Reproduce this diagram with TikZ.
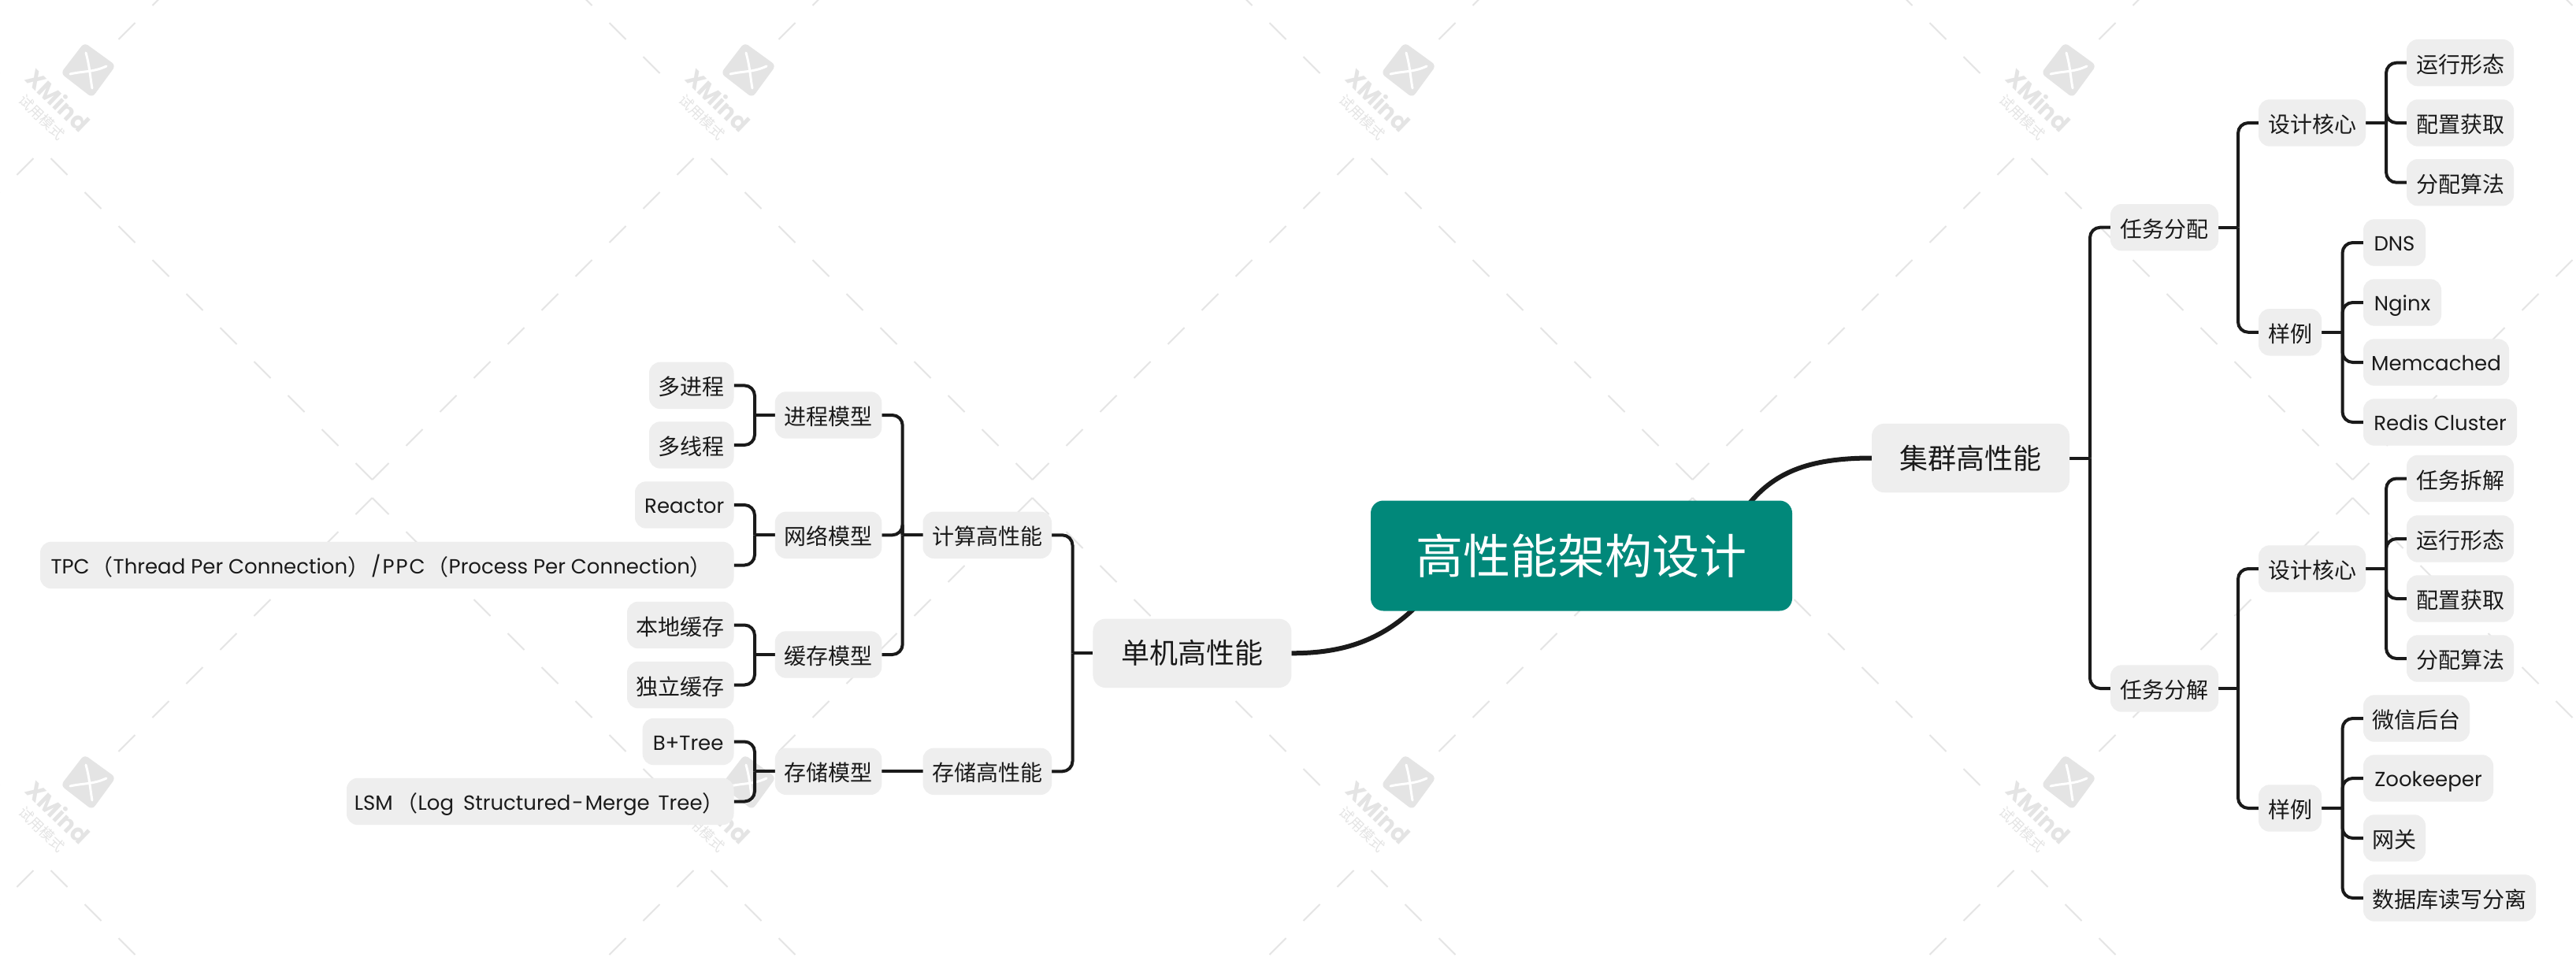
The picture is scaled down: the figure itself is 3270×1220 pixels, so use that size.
\documentclass[tikz,border=0pt]{standalone}
\usepackage{fontspec}
\setmainfont{Noto Sans CJK SC}
\newfontfamily\latf{Poppins}
\newcommand{\La}[1]{\raisebox{2pt}{\latf\fontsize{26}{30}\selectfont #1}}
\definecolor{boxgray}{HTML}{EEEEEE}
\definecolor{inkc}{HTML}{1A1A1A}
\definecolor{teal1}{HTML}{01887A}
\definecolor{wmc}{HTML}{E4E4E4}
\pgfdeclarelayer{wm}
\pgfdeclarelayer{conn}
\pgfsetlayers{wm,conn,main}
\tikzset{
  leaf/.style={fill=boxgray,rounded corners=14pt,inner sep=0pt,outer sep=0pt,align=center,
    minimum height=59.4pt,text=inkc,font=\fontsize{28}{34}\selectfont,text height=27.8pt,text depth=2.8pt},
  lvlone/.style={leaf,rounded corners=16pt,minimum height=87.5pt,font=\fontsize{36}{44}\selectfont,text height=30.6pt,text depth=3.6pt},
  rootbox/.style={leaf,fill=teal1,rounded corners=16pt,minimum height=140pt,text=white,font=\fontsize{60}{72}\selectfont,text height=51pt,text depth=6pt},
  conn/.style={draw=inkc,line width=4pt,rounded corners=13pt},
  thickconn/.style={draw=inkc,line width=6pt},
  wmline/.style={draw=wmc,line width=2pt},
}
\newcommand{\nd}[6][leaf]{\node[#1,minimum width={(#4-#3)*1pt}] (#2) at ({(#3+#4)/2},#5) {#6};}
\newcommand{\treeR}[3]{%
  \path (#1.east) ++(#2,0) coordinate (#1b);
  \draw[conn] (#1.east) -- (#1b);
  \foreach \c in {#3} {\draw[conn] (#1b) |- (\c.west);}}
\newcommand{\treeL}[3]{%
  \path (#1.west) ++(-#2,0) coordinate (#1b);
  \draw[conn] (#1.west) -- (#1b);
  \foreach \c in {#3} {\draw[conn] (#1b) |- (\c.east);}}
\begin{document}
\begin{tikzpicture}[x=1pt,y=-1pt]
\useasboundingbox (0,0) rectangle (3270,1220);
% nodes
\nd[rootbox]{root}{1740}{2275}{705.5}{高性能架构设计}
\nd[lvlone]{cluster}{2376}{2627}{581.5}{集群高性能}
\nd[lvlone]{single}{1387.4}{1639.4}{829.3}{单机高性能}
% right
\nd{ta}{2679}{2816}{288.7}{任务分配}
\nd{tb}{2679}{2816}{874}{任务分解}
\nd{ca}{2867}{3003}{156}{设计核心}
\nd{sa}{2867}{2947}{421.8}{样例}
\nd{cb}{2867}{3003}{722}{设计核心}
\nd{sb}{2867}{2947}{1026}{样例}
\nd{a1}{3055}{3191}{79.7}{运行形态}
\nd{a2}{3055}{3191}{156}{配置获取}
\nd{a3}{3055}{3191}{231.7}{分配算法}
\nd{e1}{3000}{3079}{308}{\La{DNS}}
\nd{e2}{3000}{3099}{384}{\La{Nginx}}
\nd{e3}{3000}{3185}{460}{\La{Memcached}}
\nd{e4}{3000}{3195}{536}{\La{Redis Cluster}}
\nd{b1}{3055}{3191}{607.5}{任务拆解}
\nd{b2}{3055}{3191}{684}{运行形态}
\nd{b3}{3055}{3191}{760}{配置获取}
\nd{b4}{3055}{3191}{836}{分配算法}
\nd{f1}{3000}{3135}{912}{微信后台}
\nd{f2}{3000}{3165}{988}{\La{Zookeeper}}
\nd{f3}{3000}{3079}{1064}{网关}
\nd{f4}{3000}{3219}{1140}{数据库读写分离}
% left
\nd{calc}{1171.5}{1335}{679.3}{计算高性能}
\nd{stor}{1171.5}{1335}{979.3}{存储高性能}
\nd{proc}{983.8}{1119.3}{527}{进程模型}
\nd{netm}{983.8}{1119.3}{679.3}{网络模型}
\nd{cach}{983.8}{1119.3}{831}{缓存模型}
\nd{stom}{983.8}{1119.3}{979.3}{存储模型}
\nd{p1}{824}{931.5}{489.4}{多进程}
\nd{p2}{824}{931.5}{565}{多线程}
\nd{n1}{806}{931.5}{641}{\La{Reactor}}
\nd{n2}{51}{931.5}{717.5}{\La{TPC}\hspace{2pt}（\La{Thread Per Connection}）\hspace{2pt}\La{/\hspace{2pt}P\hspace{2pt}P\hspace{2pt}C}\hspace{2pt}（\La{Process Per Connection}）\hspace{14pt}}
\nd{c1}{796}{931.5}{793.5}{本地缓存}
\nd{c2}{796}{931.5}{869.5}{独立缓存}
\nd{s1}{815.7}{931.5}{941.5}{\La{B+Tree}}
\nd{s2}{440}{931.5}{1017.5}{\La{LSM}\hspace{4pt}（\La{Log\hspace{5pt} Structured\hspace{2pt}-\hspace{2pt}Merge\hspace{4pt} Tree}）\hspace{2pt}}
% connectors
\begin{pgfonlayer}{conn}
\coordinate (rootup) at (2216,645);
\coordinate (rootdown) at (1809,758);
\draw[thickconn] (rootup) .. controls (2250,600) and (2295,581.5) .. (cluster.west);
\draw[thickconn] (single.east) .. controls (1702,829.3) and (1758,815) .. (rootdown);
\treeR{cluster}{26}{ta,tb}
\treeR{ta}{25}{ca,sa}
\treeR{tb}{25}{cb,sb}
\treeR{ca}{26}{a1,a2,a3}
\treeR{sa}{26.5}{e1,e2,e3,e4}
\treeR{cb}{26}{b1,b2,b3,b4}
\treeR{sb}{26.5}{f1,f2,f3,f4}
\treeL{single}{25.9}{calc,stor}
\treeL{calc}{25.8}{proc,netm,cach}
\treeL{proc}{25.8}{p1,p2}
\treeL{netm}{25.8}{n1,n2}
\treeL{cach}{25.8}{c1,c2}
\treeL{stom}{25.8}{s1,s2}
\draw[conn] (stor.west) -- (stom.east);
\end{pgfonlayer}
% watermark
\begin{pgfonlayer}{wm}
\fill[white] (0,0) rectangle (3270,1220);
\clip (0,0) rectangle (3270,1220);
\foreach \i in {-1,0,1,2,3} {
  \foreach \j in {-1,0,1} {
    \begin{scope}[shift={({472.5+838*\i},{609+904*\j})}]
      \foreach \k in {0,...,9} {
        \draw[wmline] ({-43*\k},{-43*\k}) -- ++(-21,-21);
        \draw[wmline] ({43*\k},{-43*\k}) -- ++(21,-21);
      }
    \end{scope}
    \begin{scope}[shift={({472.5+838*\i},{632+904*\j})}]
      \foreach \k in {0,...,7} {\draw[wmline] ({-43*\k},{43*\k}) -- ++(-21,21);}
      \foreach \k in {0,...,8} {\draw[wmline] ({43*\k},{43*\k}) -- ++(21,21);}
    \end{scope}
  }
}
\foreach \i in {0,1,2,3} {
  \foreach \j in {0,1} {
    \begin{scope}[shift={({838*\i},{904*\j})}]
      \fill[wmc,rounded corners=6pt] (107,54) -- (147,83) -- (117,124) -- (77,93) -- cycle;
      \draw[white,line width=3pt,line cap=round] (109,67) .. controls (114,85) and (114,95) .. (117,112);
      \draw[white,line width=3pt,line cap=round] (135,84) .. controls (118,92) and (106,90) .. (89,94);
      \node[text=wmc,rotate=-44,inner sep=0pt,font=\latf\bfseries\fontsize{30}{32}\selectfont] (wmx\i\j) at (74,127) {XMind};
      \node[text=wmc,rotate=-44,inner sep=0pt,font=\fontsize{18}{20}\selectfont] (wmz\i\j) at (53,149) {试用模式};
    \end{scope}
  }
}
\end{pgfonlayer}
\end{tikzpicture}
\end{document}
